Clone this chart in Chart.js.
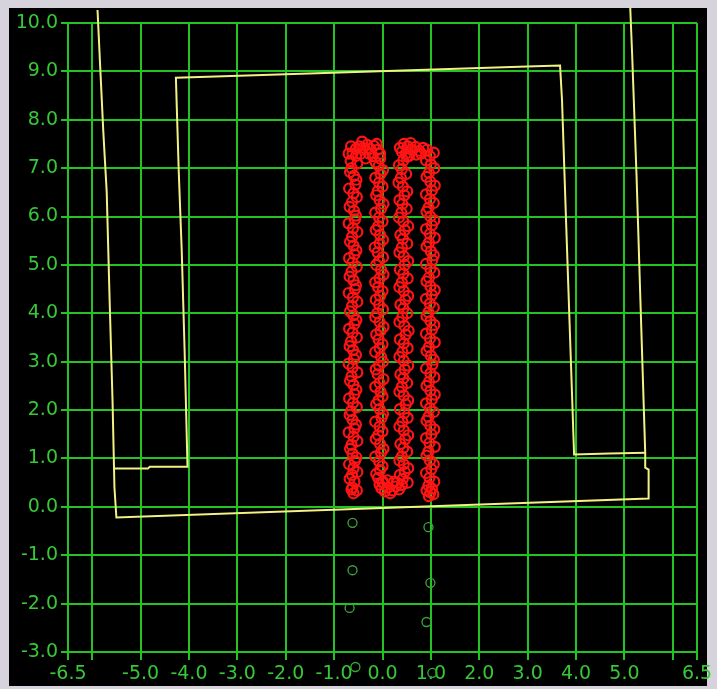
<!DOCTYPE html>
<html>
<head>
<meta charset="utf-8">
<script src="https://cdn.jsdelivr.net/npm/chart.js@4.4.0/dist/chart.umd.min.js"></script>
<style>
    html, body { margin: 0; padding: 0; background: #d6d3dc; }
    #wrap { width: 717px; height: 689px; position: relative; }
</style>
</head>
<body>
<div id="wrap"><canvas id="plot" width="717" height="689"></canvas></div>
<script>
// Tick values
const xTickValues = [-6.5, -6, -5, -4, -3, -2, -1, 0, 1, 2, 3, 4, 5, 6, 6.5];
const xHiddenLabels = [-6, 6];
const yMin = -3.0;
const yMax = 10.0;

// Yellow outline, outer part
const outerPath = [
    [-5.89, 10.27], [-5.83, 9.00], [-5.77, 7.75], [-5.70, 6.51], [-5.64, 4.28],
    [-5.58, 2.21], [-5.54, 0.40], [-5.50, -0.22], [5.50, 0.17], [5.50, 0.77],
    [5.43, 0.81], [5.43, 1.12], [5.33, 4.28], [5.25, 6.86], [5.16, 9.34], [5.12, 10.32]
];

// Yellow outline, inner part
const innerPath = [
    [5.43, 1.12], [4.69, 1.10], [3.96, 1.08], [3.80, 5.73], [3.71, 8.41], [3.67, 9.12],
    [2.99, 9.10], [-3.61, 8.89], [-4.27, 8.87], [-4.25, 8.21], [-4.21, 6.90],
    [-4.15, 5.31], [-4.09, 3.24], [-4.03, 0.83], [-4.81, 0.83], [-4.85, 0.79], [-5.54, 0.79]
];

// Red samples, column by column
const redCol1 = [
    [-0.60, 0.28], [-0.64, 0.36], [-0.62, 0.40], [-0.58, 0.52], [-0.63, 0.66], [-0.60, 0.80],
    [-0.57, 0.95], [-0.62, 1.10], [-0.64, 1.28], [-0.60, 1.45], [-0.58, 1.62], [-0.62, 1.80],
    [-0.65, 1.98], [-0.61, 2.15], [-0.58, 2.33], [-0.60, 2.52], [-0.64, 2.70], [-0.62, 2.88],
    [-0.59, 3.05], [-0.61, 3.24], [-0.65, 3.42], [-0.62, 3.60], [-0.58, 3.78], [-0.60, 3.96],
    [-0.63, 4.15], [-0.61, 4.33], [-0.57, 4.50], [-0.60, 4.68], [-0.64, 4.86], [-0.62, 5.05],
    [-0.58, 5.22], [-0.60, 5.40], [-0.63, 5.58], [-0.61, 5.76], [-0.57, 5.94], [-0.59, 6.12],
    [-0.63, 6.30], [-0.60, 6.48], [-0.56, 6.66], [-0.59, 6.84], [-0.64, 7.00], [-0.66, 7.15],
    [-0.62, 7.30], [-0.55, 7.40], [-0.48, 7.45]
];
const redCol1b = [
    [-0.53, 0.34], [-0.68, 0.58], [-0.52, 0.72], [-0.69, 0.88], [-0.54, 1.02], [-0.67, 1.20],
    [-0.52, 1.36], [-0.70, 1.54], [-0.55, 1.70], [-0.68, 1.90], [-0.53, 2.06], [-0.69, 2.24],
    [-0.54, 2.42], [-0.67, 2.60], [-0.52, 2.78], [-0.70, 2.96], [-0.55, 3.14], [-0.68, 3.32],
    [-0.53, 3.50], [-0.69, 3.68], [-0.54, 3.86], [-0.67, 4.04], [-0.52, 4.24], [-0.70, 4.42],
    [-0.55, 4.58], [-0.68, 4.76], [-0.53, 4.96], [-0.69, 5.14], [-0.54, 5.30], [-0.67, 5.48],
    [-0.52, 5.68], [-0.70, 5.86], [-0.55, 6.02], [-0.68, 6.20], [-0.53, 6.40], [-0.69, 6.58],
    [-0.54, 6.76], [-0.67, 6.92], [-0.52, 7.10], [-0.70, 7.30]
];
const redTop1 = [
    [-0.65, 7.45], [-0.55, 7.25], [-0.45, 7.30], [-0.40, 7.42], [-0.35, 7.20], [-0.32, 7.48],
    [-0.25, 7.40], [-0.20, 7.25], [-0.18, 7.46], [-0.10, 7.38], [-0.05, 7.30], [-0.42, 7.55],
    [-0.28, 7.30], [-0.12, 7.50]
];
const redCol2 = [
    [-0.05, 7.20], [-0.08, 7.05], [-0.04, 6.88], [-0.07, 6.70], [-0.10, 6.52], [-0.06, 6.34],
    [-0.03, 6.16], [-0.07, 5.98], [-0.09, 5.80], [-0.05, 5.62], [-0.06, 5.44], [-0.10, 5.26],
    [-0.07, 5.08], [-0.03, 4.90], [-0.06, 4.72], [-0.09, 4.54], [-0.05, 4.36], [-0.07, 4.18],
    [-0.11, 4.00], [-0.06, 3.82], [-0.04, 3.64], [-0.08, 3.46], [-0.06, 3.28], [-0.03, 3.10],
    [-0.07, 2.92], [-0.10, 2.74], [-0.06, 2.56], [-0.04, 2.38], [-0.08, 2.20], [-0.06, 2.02],
    [-0.02, 1.84], [-0.06, 1.66], [-0.09, 1.48], [-0.05, 1.30], [-0.03, 1.12], [-0.07, 0.94],
    [-0.05, 0.76], [-0.09, 0.60], [-0.06, 0.46], [-0.02, 0.38]
];
const redCol2b = [
    [-0.14, 7.12], [0.01, 6.96], [-0.15, 6.80], [0.00, 6.62], [-0.13, 6.44], [0.02, 6.26],
    [-0.15, 6.08], [0.00, 5.90], [-0.14, 5.72], [0.01, 5.52], [-0.16, 5.36], [0.01, 5.16],
    [-0.13, 5.00], [0.02, 4.80], [-0.15, 4.64], [0.00, 4.46], [-0.14, 4.28], [0.01, 4.08],
    [-0.15, 3.92], [0.02, 3.72], [-0.13, 3.56], [0.00, 3.36], [-0.15, 3.20], [0.01, 3.00],
    [-0.14, 2.84], [0.02, 2.64], [-0.15, 2.48], [0.00, 2.28], [-0.13, 2.12], [0.01, 1.92],
    [-0.15, 1.76], [0.00, 1.56], [-0.14, 1.40], [0.02, 1.20], [-0.15, 1.04], [0.00, 0.84],
    [-0.13, 0.68], [0.01, 0.52]
];
const redBottom = [
    [0.05, 0.32], [0.00, 0.50], [0.12, 0.40], [0.10, 0.55], [0.20, 0.34], [0.28, 0.42],
    [0.30, 0.50], [0.34, 0.36], [0.40, 0.45], [0.16, 0.28], [0.24, 0.52]
];
const redCol3 = [
    [0.42, 0.58], [0.46, 0.72], [0.44, 0.88], [0.40, 1.04], [0.43, 1.22], [0.47, 1.40],
    [0.44, 1.58], [0.41, 1.76], [0.45, 1.94], [0.48, 2.12], [0.44, 2.30], [0.40, 2.48],
    [0.43, 2.66], [0.46, 2.84], [0.44, 3.02], [0.41, 3.20], [0.44, 3.38], [0.48, 3.56],
    [0.45, 3.74], [0.41, 3.92], [0.43, 4.10], [0.47, 4.28], [0.44, 4.46], [0.40, 4.64],
    [0.43, 4.82], [0.46, 5.00], [0.44, 5.18], [0.40, 5.36], [0.42, 5.54], [0.46, 5.72],
    [0.43, 5.90], [0.39, 6.08], [0.41, 6.26], [0.45, 6.44], [0.42, 6.62], [0.38, 6.80],
    [0.40, 6.98], [0.43, 7.16], [0.40, 7.34], [0.44, 7.50]
];
const redCol3b = [
    [0.52, 0.50], [0.36, 0.66], [0.53, 0.80], [0.35, 0.96], [0.51, 1.14], [0.37, 1.30],
    [0.53, 1.48], [0.35, 1.66], [0.52, 1.84], [0.36, 2.02], [0.53, 2.20], [0.35, 2.38],
    [0.51, 2.56], [0.37, 2.74], [0.53, 2.92], [0.35, 3.10], [0.52, 3.28], [0.36, 3.46],
    [0.54, 3.64], [0.35, 3.82], [0.51, 4.00], [0.37, 4.18], [0.53, 4.36], [0.35, 4.54],
    [0.52, 4.72], [0.36, 4.90], [0.53, 5.08], [0.35, 5.26], [0.51, 5.44], [0.37, 5.62],
    [0.53, 5.80], [0.34, 5.98], [0.50, 6.16], [0.35, 6.34], [0.51, 6.52], [0.33, 6.70],
    [0.49, 6.88], [0.34, 7.06], [0.50, 7.24], [0.36, 7.42]
];
const redTop2 = [
    [0.48, 7.30], [0.52, 7.45], [0.55, 7.25], [0.60, 7.38], [0.68, 7.44], [0.70, 7.28],
    [0.76, 7.36], [0.84, 7.42], [0.92, 7.38], [0.58, 7.52], [0.80, 7.30]
];
const redCol4 = [
    [0.98, 7.25], [1.00, 7.08], [0.96, 6.90], [0.99, 6.72], [1.02, 6.54], [0.98, 6.36],
    [0.95, 6.18], [0.99, 6.00], [1.02, 5.82], [0.98, 5.64], [0.96, 5.46], [1.00, 5.28],
    [1.03, 5.10], [0.99, 4.92], [0.96, 4.74], [0.99, 4.56], [1.02, 4.38], [0.98, 4.20],
    [0.95, 4.02], [0.99, 3.84], [1.02, 3.66], [0.98, 3.48], [0.96, 3.30], [1.00, 3.12],
    [1.03, 2.94], [0.99, 2.76], [0.96, 2.58], [0.99, 2.40], [1.02, 2.22], [0.98, 2.04],
    [0.95, 1.86], [0.99, 1.68], [1.01, 1.50], [0.97, 1.32], [0.95, 1.14], [0.98, 0.96],
    [1.01, 0.78], [0.97, 0.60], [0.95, 0.44], [1.02, 0.38], [0.99, 0.30], [0.96, 0.22]
];
const redCol4b = [
    [1.06, 7.32], [0.90, 7.16], [1.07, 7.00], [0.91, 6.82], [1.08, 6.64], [0.90, 6.46],
    [1.06, 6.28], [0.91, 6.10], [1.07, 5.92], [0.90, 5.74], [1.08, 5.56], [0.91, 5.38],
    [1.06, 5.20], [0.90, 5.02], [1.07, 4.84], [0.91, 4.66], [1.08, 4.48], [0.90, 4.30],
    [1.06, 4.12], [0.91, 3.94], [1.07, 3.76], [0.90, 3.58], [1.08, 3.40], [0.91, 3.22],
    [1.06, 3.04], [0.90, 2.86], [1.07, 2.68], [0.91, 2.50], [1.08, 2.32], [0.90, 2.14],
    [1.06, 1.96], [0.91, 1.78], [1.07, 1.60], [0.90, 1.42], [1.08, 1.24], [0.91, 1.06],
    [1.06, 0.88], [0.90, 0.70], [1.07, 0.52], [0.91, 0.34], [1.05, 0.26]
];

// Green samples below the zero line
const greenPoints = [
    [-0.62, -0.33], [-0.62, -1.31], [-0.68, -2.09], [0.95, -0.42],
    [0.99, -1.57], [0.91, -2.38]
];
// these two fall under the x axis, among the tick labels
const greenBelowAxis = [[-0.56, -3.31], [1.03, -3.43]];

const GRID = '#22c322';
const LABEL = '#37c837';
const YELLOW = '#f2f283';
const RED = '#ff1414';
const GREEN_PT = '#3aa83a';

const toXY = arr => arr.map(p => ({ x: p[0], y: p[1] }));
const redPoints = [].concat(redCol1, redCol1b, redTop1, redCol2, redCol2b, redBottom,
    redCol3, redCol3b, redTop2, redCol4, redCol4b);

// Frame and black background
const framePlugin = {
    id: 'frame',
    beforeDraw(chart) {
        const c = chart.ctx;
        c.save();
        c.fillStyle = '#d6d3dc';
        c.fillRect(0, 0, chart.width, chart.height);
        c.fillStyle = '#000000';
        c.fillRect(9, 8, 698, 678);
        c.restore();
    }
};

// Chart.js skips points outside the chart area, so place these through the scales
const belowAxisPlugin = {
    id: 'belowAxis',
    afterDraw(chart) {
        const c = chart.ctx;
        const xs = chart.scales.x;
        const ys = chart.scales.y;
        c.save();
        c.strokeStyle = GREEN_PT;
        c.lineWidth = 1.3;
        greenBelowAxis.forEach(p => {
            c.beginPath();
            c.arc(xs.getPixelForValue(p[0]), ys.getPixelForValue(p[1]), 4.5, 0, Math.PI * 2);
            c.stroke();
        });
        c.restore();
    }
};

const ctx = document.getElementById('plot').getContext('2d');
new Chart(ctx, {
    type: 'scatter',
    data: {
        datasets: [
            {
                data: toXY(outerPath),
                showLine: true,
                borderColor: YELLOW,
                borderWidth: 2,
                pointRadius: 0,
                clip: false
            },
            {
                data: toXY(innerPath),
                showLine: true,
                borderColor: YELLOW,
                borderWidth: 2,
                pointRadius: 0,
                clip: false
            },
            {
                data: toXY(redPoints),
                showLine: false,
                pointRadius: 5,
                pointBorderWidth: 2.2,
                pointBorderColor: RED,
                pointBackgroundColor: 'rgba(0,0,0,0)',
                clip: false
            },
            {
                data: toXY(greenPoints),
                showLine: false,
                pointRadius: 4.5,
                pointBorderWidth: 1.3,
                pointBorderColor: GREEN_PT,
                pointBackgroundColor: 'rgba(0,0,0,0)',
                clip: false
            }
        ]
    },
    options: {
        responsive: false,
        animation: false,
        layout: { padding: { top: 23, right: 20, left: 0, bottom: 0 } },
        plugins: {
            legend: { display: false },
            tooltip: { enabled: false }
        },
        scales: {
            x: {
                type: 'linear',
                min: -6.5,
                max: 6.5,
                afterBuildTicks: scale => {
                    scale.ticks = xTickValues.map(v => ({ value: v }));
                },
                afterFit: scale => { scale.height = 37; },
                grid: { color: GRID, lineWidth: 2, tickLength: 8 },
                border: { color: GRID, width: 2 },
                ticks: {
                    color: LABEL,
                    font: { family: 'DejaVu Sans', size: 19 },
                    padding: 3,
                    autoSkip: false,
                    maxRotation: 0,
                    callback: v => xHiddenLabels.includes(v) ? '' : v.toFixed(1)
                }
            },
            y: {
                type: 'linear',
                min: yMin,
                max: yMax,
                afterFit: scale => { scale.width = 68; },
                grid: { color: GRID, lineWidth: 2, tickLength: 7 },
                border: { color: GRID, width: 2 },
                ticks: {
                    stepSize: 1,
                    color: LABEL,
                    font: { family: 'DejaVu Sans', size: 19 },
                    padding: 3,
                    callback: v => v.toFixed(1)
                }
            }
        }
    },
    plugins: [framePlugin, belowAxisPlugin]
});
</script>
</body>
</html>
